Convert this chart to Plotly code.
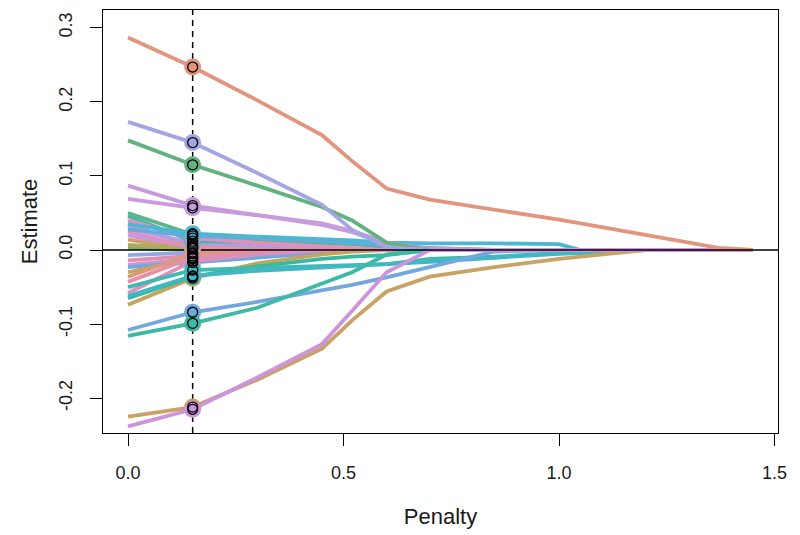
import plotly.graph_objects as go

# Penalty grid (lambda) at which coefficient paths were read
penalty = [0, 0.15, 0.3, 0.45, 0.52, 0.6, 0.7, 0.85, 1.0, 1.05, 1.2, 1.37, 1.45]
selected_penalty = 0.15

# Coefficient paths (one list per variable)
v_salmon   = [0.287, 0.247, 0.202, 0.155, 0.12, 0.083, 0.068, 0.055, 0.041, 0.036, 0.02, 0.003, 0.0]
v_lavender = [0.173, 0.145, 0.104, 0.061, 0.027, 0.004, 0, 0, 0, 0, 0, 0, 0]
v_green    = [0.148, 0.115, 0.087, 0.058, 0.04, 0.01, 0, 0, 0, 0, 0, 0, 0]
v_purple_a = [0.087, 0.060, 0.047, 0.034, 0.024, 0.008, 0, 0, 0, 0, 0, 0, 0]
v_purple_b = [0.069, 0.057, 0.047, 0.036, 0.026, 0.01, 0.002, 0, 0, 0, 0, 0, 0]
v_blue     = [-0.108, -0.084, -0.07, -0.055, -0.047, -0.037, -0.023, -0.002, 0, 0, 0, 0, 0]
v_teal     = [-0.116, -0.099, -0.078, -0.045, -0.03, -0.006, 0, 0, 0, 0, 0, 0, 0]
v_tan      = [-0.225, -0.212, -0.175, -0.133, -0.095, -0.056, -0.036, -0.023, -0.012, -0.009, 0, 0, 0]
v_purple_c = [-0.238, -0.215, -0.172, -0.127, -0.082, -0.03, 0, 0, 0, 0, 0, 0, 0]

v_s01 = [0.035, 0.022, 0.018, 0.015, 0.013, 0.01, 0.009, 0.009, 0.008, 0, 0, 0, 0]
v_s02 = [0.028, 0.019, 0.016, 0.012, 0.01, 0.006, 0.003, 0, 0, 0, 0, 0, 0]
v_s03 = [0.05, 0.021, 0.015, 0.011, 0.009, 0.005, 0, 0, 0, 0, 0, 0, 0]
v_s04 = [0.04, 0.016, 0.01, 0.005, 0.003, 0, 0, 0, 0, 0, 0, 0, 0]
v_s05 = [0.046, 0.012, 0.011, 0.009, 0.008, 0.004, 0, 0, 0, 0, 0, 0, 0]
v_s06 = [0.03, 0.009, 0.006, 0.003, 0.001, 0, 0, 0, 0, 0, 0, 0, 0]
v_s07 = [0.035, 0.005, 0.002, 0, 0, 0, 0, 0, 0, 0, 0, 0, 0]
v_s08 = [0.025, 0.003, 0, 0, 0, 0, 0, 0, 0, 0, 0, 0, 0]
v_s09 = [0.02, 0, 0, 0, 0, 0, 0, 0, 0, 0, 0, 0, 0]
v_s10 = [0.014, 0, 0, 0, 0, 0, 0, 0, 0, 0, 0, 0, 0]
v_s11 = [0.007, 0.002, 0, 0, 0, 0, 0, 0, 0, 0, 0, 0, 0]
v_s12 = [0.003, 0, 0, 0, 0, 0, 0, 0, 0, 0, 0, 0, 0]
v_s13 = [-0.007, -0.004, 0, 0, 0, 0, 0, 0, 0, 0, 0, 0, 0]
v_s14 = [-0.014, -0.008, -0.004, 0, 0, 0, 0, 0, 0, 0, 0, 0, 0]
v_s15 = [-0.02, -0.012, -0.006, 0, 0, 0, 0, 0, 0, 0, 0, 0, 0]
v_s16 = [-0.023, -0.017, -0.01, -0.004, 0, 0, 0, 0, 0, 0, 0, 0, 0]
v_s17 = [-0.03, -0.011, -0.003, 0, 0, 0, 0, 0, 0, 0, 0, 0, 0]
v_s18 = [-0.036, -0.005, 0, 0, 0, 0, 0, 0, 0, 0, 0, 0, 0]
v_s19 = [-0.043, -0.01, 0, 0, 0, 0, 0, 0, 0, 0, 0, 0, 0]
v_s20 = [-0.05, -0.027, -0.024, -0.021, -0.02, -0.019, -0.012, -0.009, -0.004, 0, 0, 0, 0]
v_s21 = [-0.058, -0.015, -0.006, 0, 0, 0, 0, 0, 0, 0, 0, 0, 0]
v_s22 = [-0.065, -0.036, -0.022, -0.012, -0.009, -0.007, 0, 0, 0, 0, 0, 0, 0]
v_s23 = [-0.074, -0.038, -0.018, -0.006, -0.002, 0, 0, 0, 0, 0, 0, 0, 0]
v_s24 = [-0.062, -0.035, -0.028, -0.024, -0.022, -0.019, -0.016, -0.01, -0.005, -0.004, 0, 0, 0]

series = [v_s12, v_s09, v_s10, v_s11, v_s08, v_s07, v_s06, v_s13, v_s14, v_s15, v_s16,
          v_s17, v_s18, v_s19, v_s21, v_s23, v_s22, v_s20, v_s24, v_s05, v_s04, v_s03,
          v_s02, v_s01, v_purple_b, v_purple_a, v_green, v_lavender, v_blue, v_teal,
          v_tan, v_purple_c, v_salmon]
colors = ["#7DB26A", "#C59AE0", "#CDA06E", "#AFAA5E", "#DF8FC6", "#E5959A", "#B49CE2",
          "#8EA9E3", "#E28FAC", "#D094D8", "#6EA9DE", "#C7A35F", "#D99C7A", "#E58FA8",
          "#DE8FC0", "#C4A45F", "#38B8A0", "#3EBAB0", "#42B7C4", "#41B9A9", "#E290BA",
          "#5DB58A", "#63ACDD", "#4DB6D2", "#C99ADF", "#C79BDE", "#62B27F", "#A3A6E3",
          "#72A8DD", "#3DB9A6", "#C9A265", "#CE93DD", "#E1957F"]

x_range = [-0.058, 1.508]
y_range = [-0.247, 0.324]

fig = go.Figure()
for y, c in zip(series, colors):
    fig.add_trace(go.Scatter(x=penalty, y=y, mode="lines",
                             line=dict(color=c, width=3.8), hoverinfo="skip"))

# zero reference line and selected-penalty dashed line
fig.add_trace(go.Scatter(x=x_range, y=[0, 0], mode="lines",
                         line=dict(color="black", width=1.5), hoverinfo="skip"))
fig.add_trace(go.Scatter(x=[selected_penalty, selected_penalty], y=y_range, mode="lines",
                         line=dict(color="black", width=1.5, dash="6px,5px"), hoverinfo="skip"))

sel_idx = penalty.index(selected_penalty)
mx, my, mc = [], [], []
for y, c in zip(series, colors):
    if y[sel_idx] != 0:
        mx.append(penalty[sel_idx]); my.append(y[sel_idx]); mc.append(c)
fig.add_trace(go.Scatter(x=mx, y=my, mode="markers",
                         marker=dict(size=17, color=mc, line=dict(width=0)), hoverinfo="skip"))
fig.add_trace(go.Scatter(x=mx, y=my, mode="markers",
                         marker=dict(size=10, symbol="circle-open", color="black",
                                     line=dict(width=1.3, color="black")), hoverinfo="skip"))

axis_common = dict(showgrid=False, zeroline=False, showline=True, mirror=True,
                   linecolor="black", linewidth=1.3, ticks="outside", ticklen=12,
                   tickwidth=1.3, tickcolor="black", automargin=False)
fig.update_layout(
    width=800, height=535,
    margin=dict(l=103, r=22, t=10, b=102),
    plot_bgcolor="white", paper_bgcolor="white", showlegend=False,
    font=dict(family="Liberation Sans, Arial, sans-serif", size=18, color="#1a1a1a"),
    xaxis=dict(range=x_range, tickvals=[0, 0.5, 1.0, 1.5],
               ticktext=["0.0", "0.5", "1.0", "1.5"], ticklabelstandoff=11,
               title=dict(text="Penalty", standoff=26), **axis_common),
    yaxis=dict(range=y_range, tickvals=[-0.2, -0.1, 0, 0.1, 0.2, 0.3],
               ticktext=["-0.2", "-0.1", "0.0", "0.1", "0.2", "0.3"], tickangle=-90,
               ticklabelstandoff=11,
               title=dict(text="Estimate", standoff=11), **axis_common),
)
fig.write_html("out.html", config={"displayModeBar": False},
               post_script="document.body.style.margin='0';document.body.style.overflow='hidden';")
